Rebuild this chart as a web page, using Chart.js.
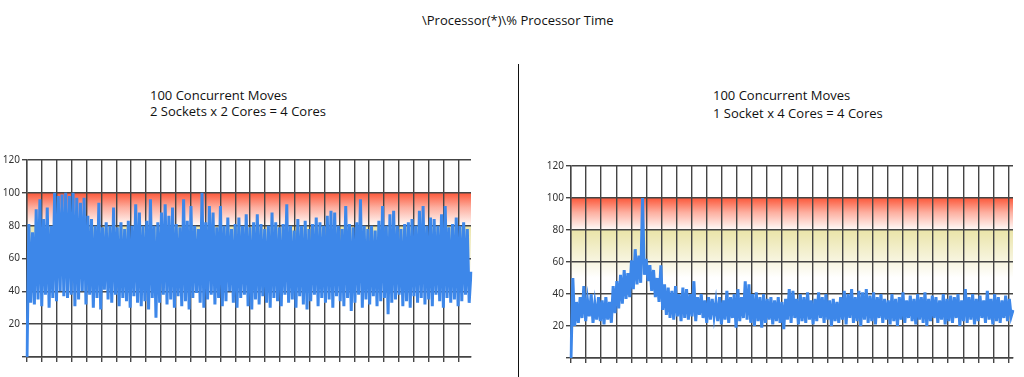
<!DOCTYPE html>
<html>
<head>
<meta charset="utf-8">
<script src="https://cdn.jsdelivr.net/npm/chart.js@4.4.1/dist/chart.umd.min.js"></script>
<style>
  html, body { margin: 0; padding: 0; background: #fff; }
  body { width: 1024px; height: 377px; position: relative; overflow: hidden; font-family: "Open Sans", sans-serif; color: #111; }
  .txt { position: absolute; font-size: 13px; white-space: nowrap; line-height: 16px; }
  #divider { position: absolute; left: 518px; top: 64px; width: 1px; height: 313px; background: #111; }
  canvas { position: absolute; }
</style>
</head>
<body>
<div class="txt" id="title" style="left:422px; top:12px;">\Processor(*)\% Processor Time</div>
<div class="txt" style="left:150px; top:87px;">100 Concurrent Moves</div>
<div class="txt" style="left:150px; top:103px;">2 Sockets x 2 Cores = 4 Cores</div>
<div class="txt" style="left:713px; top:87px;">100 Concurrent Moves</div>
<div class="txt" style="left:713px; top:105px;">1 Socket x 4 Cores = 4 Cores</div>
<div id="divider"></div>
<canvas id="left-chart" width="480" height="237" style="left:0; top:140px;"></canvas>
<canvas id="right-chart" width="479" height="237" style="left:545px; top:140px;"></canvas>
<script>
// y axis ticks shown on both charts
const yTicks = [0, 20, 40, 60, 80, 100, 120]

// 2 sockets x 2 cores: high / low swings, left to right
const leftPeaks = [
  81, 76, 90, 96, 84, 91, 80, 100, 98, 99, 100, 98, 100, 97, 94, 97, 86, 84, 80, 94,
  79, 82, 80, 91, 79, 82, 78, 83, 80, 93, 88, 80, 83, 96, 80, 82, 88, 93, 86, 91,
  81, 79, 96, 83, 92, 80, 78, 100, 82, 92, 88, 79, 92, 80, 85, 78, 81, 85, 80, 87,
  79, 82, 87, 81, 78, 80, 88, 82, 79, 81, 93, 80, 77, 84, 80, 83, 78, 81, 85, 82,
  80, 86, 89, 88, 80, 78, 92, 81, 79, 82, 96, 80, 78, 80, 77, 83, 92, 80, 87, 89,
  80, 78, 81, 82, 84, 80, 89, 92, 80, 85, 84, 80, 87, 92, 79, 81, 85, 80, 82, 78
]
const leftTroughs = [
  33, 32, 35, 31, 38, 30, 36, 34, 40, 37, 36, 38, 31, 35, 40, 32, 38, 30, 36, 29,
  41, 35, 33, 38, 31, 36, 34, 30, 37, 33, 31, 34, 29, 36, 24, 33, 38, 32, 35, 30,
  37, 31, 34, 29, 36, 39, 33, 30, 35, 38, 32, 36, 31, 34, 40, 33, 30, 36, 38, 31,
  29, 35, 32, 37, 33, 30, 36, 34, 31, 38, 33, 35, 30, 37, 32, 29, 34, 38, 31, 36,
  33, 35, 30, 37, 34, 31, 36, 28, 33, 38, 30, 35, 32, 37, 31, 34, 36, 26, 33, 35,
  38, 31, 34, 30, 37, 33, 36, 32, 35, 31, 38, 34, 30, 36, 33, 35, 31, 34, 38, 33
]
const leftStart = 0
const leftEnd = 52

// 1 socket x 4 cores
const rightPeaks = [
  50, 35, 38, 45, 36, 40, 34, 38, 36, 38, 35, 45, 48, 52, 55, 53, 61, 68, 64, 100,
  62, 58, 55, 50, 58, 46, 44, 42, 45, 40, 44, 43, 40, 48, 38, 40, 36, 38, 37, 35,
  38, 36, 42, 38, 40, 43, 38, 48, 46, 40, 41, 38, 40, 37, 38, 36, 38, 35, 37, 43,
  42, 37, 40, 38, 41, 36, 37, 41, 38, 40, 36, 37, 35, 38, 42, 40, 43, 38, 42, 41,
  43, 39, 41, 38, 40, 37, 36, 40, 37, 38, 41, 36, 39, 37, 40, 38, 41, 37, 39, 38,
  36, 40, 37, 39, 38, 40, 36, 43, 38, 40, 37, 39, 36, 42, 37, 40, 38, 36, 39, 37
]
const rightTroughs = [
  20, 22, 25, 23, 26, 22, 24, 23, 21, 24, 22, 28, 31, 34, 37, 38, 43, 46, 47, 52,
  48, 42, 38, 35, 30, 27, 25, 24, 26, 23, 25, 24, 26, 23, 27, 25, 22, 24, 26, 23,
  21, 24, 22, 25, 19, 23, 25, 24, 22, 20, 23, 19, 22, 24, 21, 23, 22, 18, 24, 22,
  25, 21, 23, 22, 24, 21, 23, 25, 22, 24, 20, 23, 22, 24, 21, 25, 22, 23, 20, 24,
  22, 23, 21, 25, 22, 24, 21, 23, 20, 24, 22, 25, 23, 21, 24, 22, 20, 23, 25, 22,
  24, 21, 23, 22, 25, 20, 23, 22, 24, 21, 23, 25, 22, 24, 21, 23, 22, 25, 23, 26
]
const rightStart = 0
const rightEnd = 30

function zigzag(start, peaks, troughs, end) {
  const out = [start]
  peaks.forEach((p, i) => { out.push(p, troughs[i]) })
  out.push(end)
  return out
}

const gridColor = '#444'

// red / yellow warning zones behind the grid
const zones = {
  id: 'zones',
  beforeDraw(chart) {
    const { ctx, chartArea: { left, right }, scales: { y } } = chart
    const y100 = y.getPixelForValue(100)
    const y80 = y.getPixelForValue(80)
    const y50 = y.getPixelForValue(50)
    let g = ctx.createLinearGradient(0, y100, 0, y80)
    g.addColorStop(0, 'rgb(252,88,58)')
    g.addColorStop(0.45, 'rgb(253,175,160)')
    g.addColorStop(1, 'rgb(255,252,250)')
    ctx.save()
    ctx.fillStyle = g
    ctx.fillRect(left, y100, right - left, y80 - y100)
    g = ctx.createLinearGradient(0, y80, 0, y50)
    g.addColorStop(0, 'rgb(234,228,168)')
    g.addColorStop(1, 'rgb(255,255,255)')
    ctx.fillStyle = g
    ctx.fillRect(left, y80, right - left, y50 - y80)
    ctx.restore()
  }
}

function makeChart(id, series, xMax, yWidth, xHeight, padding) {
  return new Chart(document.getElementById(id), {
    type: 'line',
    data: {
      labels: series.map((_, i) => i),
      datasets: [{
        data: series,
        xAxisID: 'x',
        yAxisID: 'y',
        borderColor: '#3d87e9',
        borderWidth: 3,
        pointRadius: 0,
        tension: 0,
        fill: false
      }]
    },
    options: {
      responsive: false,
      animation: false,
      devicePixelRatio: 1,
      layout: { padding },
      plugins: { legend: { display: false }, tooltip: { enabled: false } },
      scales: {
        x: { type: 'category', display: false, offset: false },
        xg: {
          type: 'linear',
          position: 'bottom',
          min: 0,
          max: xMax,
          afterFit: s => { s.height = xHeight },
          ticks: { display: false, stepSize: 1, includeBounds: false, autoSkip: false },
          grid: { color: gridColor, lineWidth: 1.4, tickLength: 5 },
          border: { color: gridColor, width: 1.4 }
        },
        y: {
          min: yTicks[0],
          max: yTicks[yTicks.length - 1],
          afterFit: s => { s.width = yWidth },
          afterBuildTicks: s => { s.ticks = yTicks.map(v => ({ value: v })) },
          ticks: {
            padding: 2,
            color: '#333',
            font: { family: 'Noto Sans', size: 10 },
            callback: v => v === 0 ? '' : v
          },
          grid: { color: gridColor, lineWidth: 1.4, tickLength: 5 },
          border: { color: gridColor, width: 1.4 }
        }
      }
    },
    plugins: [zones]
  })
}

makeChart('left-chart', zigzag(leftStart, leftPeaks, leftTroughs, leftEnd), 29.85, 27, 20,
  { top: 20, right: 9, left: 0, bottom: 0 })
makeChart('right-chart', zigzag(rightStart, rightPeaks, rightTroughs, rightEnd), 29.3, 26, 19,
  { top: 26, right: 11, left: 0, bottom: 0 })
</script>
</body>
</html>
